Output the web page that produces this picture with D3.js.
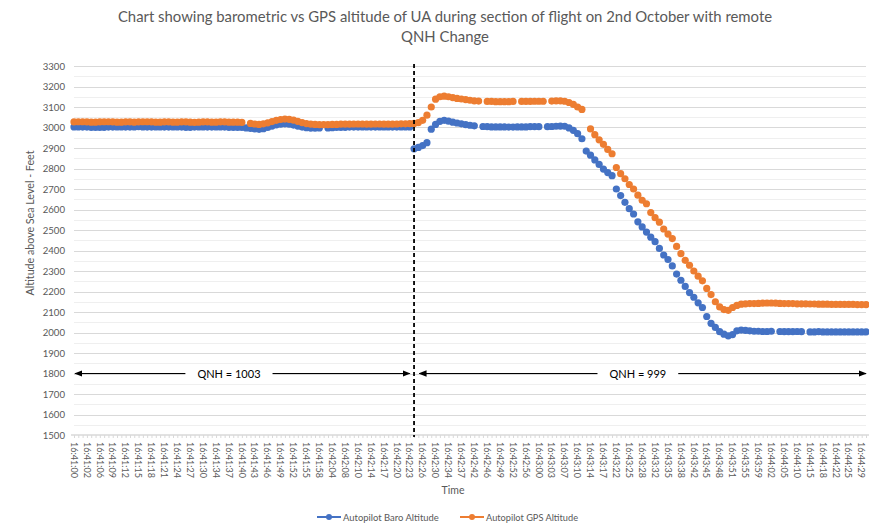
<!DOCTYPE html>
<html><head><meta charset="utf-8">
<script src="https://cdn.jsdelivr.net/npm/d3@7/dist/d3.min.js"></script>
<style>body{margin:0;background:#fff;} svg{display:block;font-family:Lato,"Open Sans",sans-serif;}</style>
</head><body>
<svg id="chart" width="869" height="524"></svg>
<script>
const titleLines = ["Chart showing barometric vs GPS altitude of UA during section of flight on 2nd October with remote", "QNH Change"];
const yTitle = "Altitude above Sea Level - Feet";
const xTitle = "Time";
const seriesNames = ["Autopilot Baro Altitude", "Autopilot GPS Altitude"];
const yTickValues = [1500,1600,1700,1800,1900,2000,2100,2200,2300,2400,2500,2600,2700,2800,2900,3000,3100,3200,3300];
const yMinorValues = [1550,1650,1750,1850,1950,2050,2150,2250,2350,2450,2550,2650,2750,2850,2950,3050,3150,3250];
// one label every 3rd category
const tickLabels = ["16:41:00","16:41:02","16:41:06","16:41:09","16:41:12","16:41:15","16:41:18","16:41:21","16:41:24","16:41:27",
"16:41:30","16:41:34","16:41:37","16:41:40","16:41:43","16:41:46","16:41:49","16:41:52","16:41:55","16:41:58",
"16:42:04","16:42:08","16:42:10","16:42:14","16:42:17","16:42:20","16:42:23","16:42:26","16:42:30","16:42:34",
"16:42:37","16:42:42","16:42:46","16:42:49","16:42:52","16:42:56","16:43:00","16:43:03","16:43:07","16:43:10",
"16:43:14","16:43:17","16:43:22","16:43:25","16:43:28","16:43:32","16:43:35","16:43:38","16:43:42","16:43:45",
"16:43:48","16:43:51","16:43:55","16:43:59","16:44:02","16:44:05","16:44:10","16:44:15","16:44:18","16:44:22",
"16:44:25","16:44:29"];
const baro = [
3003,3003,3002,3002,3001,3000,3000,3001,3002,3002,
3003,3003,3002,3002,3003,3004,3003,3002,3002,3003,
3003,3002,3002,3003,3003,3002,3001,3001,3002,3003,
3003,3002,3002,3003,3003,3002,3001,3001,3000,3000,
2998,2996,2993,2991,2994,3000,3007,3013,3016,3018,
3016,3012,3007,3002,2999,2997,2997,2998,null,2998,
2999,3000,3001,3001,3002,3002,3002,3003,3003,3002,
3002,3003,3003,3003,3002,3002,3003,3003,3003,2896,
2903,2912,2926,2992,3015,3030,3035,3031,3026,3022,
3018,3014,3011,3008,null,3005,3004,3003,3003,3003,
3003,3002,3002,3003,3003,3003,3004,3004,3004,null,
3004,3005,3006,3007,3006,2998,2986,2970,2945,2885,
2865,2842,2820,2797,2780,2765,2700,2668,2635,2604,
2578,2540,2515,2490,2465,2443,2410,2378,2356,2325,
2285,2255,2225,2195,2172,2145,2122,2078,2045,2025,
2004,1992,1984,1990,2008,2012,2010,2008,2006,2006,
2005,2005,2006,null,2005,2004,2004,2004,2005,2004,
null,2003,2003,2004,2003,2003,2003,2003,2003,2003,
2003,2003,2003,2003,2003];
const gps = [
3027,3028,3028,3027,3026,3026,3027,3028,3028,3027,
3026,3026,3027,3027,3026,3027,3028,3028,3027,3026,
3026,3027,3027,3026,3026,3027,3027,3026,3025,3026,
3027,3027,3026,3026,3027,3027,3026,3026,3026,3025,
null,3020,3017,3015,3018,3023,3029,3035,3039,3041,
3040,3036,3030,3024,3019,3016,3015,3014,3014,3014,
3015,3015,3016,3016,3016,3017,3017,3017,3016,3016,
3017,3017,3016,3016,3016,3017,3018,3018,3019,3020,
3024,3035,3060,3100,3138,3150,3153,3150,3146,3142,
3139,3136,3133,3130,3129,null,3127,3127,3126,3126,
3126,3126,3127,null,3127,3127,3127,3128,3128,3128,
null,3129,3130,3130,3128,3122,3113,3100,3088,null,
2993,2965,2940,2918,2893,2872,2805,2775,2750,2722,
2700,2670,2645,2628,2585,2560,2538,2505,2480,2458,
2420,2385,2352,2328,2300,2275,2252,2215,2185,2150,
2125,2112,2108,2122,2132,2138,2140,2141,2141,2142,
2143,2144,2144,2143,2142,2141,2141,2141,2140,2140,
2140,2139,2139,2138,2138,2138,2137,2137,2137,2137,
2137,2137,2136,2136,2136];
const qnhChangeIndex = 79;
const annotationLevel = 1800;
const qnhLabels = ["QNH = 1003", "QNH = 999"];
const qnhLabelIndex = [36, 131];
const colors = ["#4472C4", "#ED7D31"];

const svg = d3.select("#chart");
const plot = {left: 74, right: 866, top: 66, bottom: 435};
const idx = d3.range(baro.length);
const x = d3.scalePoint().domain(idx).range([plot.left, plot.right]);
const y = d3.scaleLinear().domain([1500, 3300]).range([plot.bottom, plot.top]);
const textCol = "#595959";

function fit(sel, target) {
  const w = sel.node().getComputedTextLength();
  const fs = parseFloat(sel.attr("font-size"));
  sel.attr("font-size", (fs * target / w).toFixed(2) + "px");
}

// gridlines
svg.append("g").selectAll("line").data(yMinorValues).join("line")
  .attr("x1", plot.left).attr("x2", plot.right)
  .attr("y1", d => Math.round(y(d)) + 0.5).attr("y2", d => Math.round(y(d)) + 0.5)
  .attr("stroke", "#efefef").attr("stroke-width", 1);
svg.append("g").selectAll("line").data(yTickValues.slice(1)).join("line")
  .attr("x1", plot.left).attr("x2", plot.right)
  .attr("y1", d => Math.round(y(d)) + 0.5).attr("y2", d => Math.round(y(d)) + 0.5)
  .attr("stroke", "#d9d9d9").attr("stroke-width", 1);

// y axis labels
const yAxis = d3.axisLeft(y).tickValues(yTickValues).tickSize(0).tickPadding(9).tickFormat(d3.format("d"));
const gy = svg.append("g").attr("transform", `translate(${plot.left},0)`).call(yAxis);
gy.select(".domain").remove();
gy.selectAll("text").attr("fill", textCol).attr("font-size", "9.6px").attr("font-family", "Lato");

// x axis
const xAxis = d3.axisBottom(x).tickValues(idx).tickSize(3).tickFormat("");
const gx = svg.append("g").attr("transform", `translate(0,${plot.bottom})`).call(xAxis);
gx.select(".domain").attr("stroke", "#d9d9d9").attr("stroke-width", 1.5).attr("d", `M${plot.left-3},0H${plot.right+3}`);
gx.selectAll(".tick line").attr("stroke", "#d9d9d9");
const labelIdx = tickLabels.map((t, i) => i * 3);
const xl = svg.append("g").selectAll("text").data(labelIdx).join("text")
  .attr("transform", d => `translate(${x(d) - 3.3},${plot.bottom + 7}) rotate(90)`)
  .attr("text-anchor", "start")
  .attr("fill", textCol).attr("font-size", "9.5px")
  .text((d, i) => tickLabels[i]);
const w0 = xl.node().getComputedTextLength();
xl.attr("font-size", (9.5 * 36 / w0).toFixed(2) + "px");

// axis titles
svg.append("text").attr("x", 453).attr("y", 494).attr("text-anchor", "middle")
  .attr("fill", textCol).attr("font-size", "10.5px").text(xTitle);
const yt = svg.append("text").attr("transform", `translate(34,223) rotate(-90)`)
  .attr("text-anchor", "middle").attr("fill", textCol).attr("font-size", "10.5px").text(yTitle);
fit(yt, 145);

// title
const tt = svg.append("g").selectAll("text").data(titleLines).join("text")
  .attr("x", 445).attr("y", (d, i) => 22 + i * 19.5).attr("text-anchor", "middle")
  .attr("fill", textCol).attr("font-size", "13.5px").text(d => d);
const tw = tt.node().getComputedTextLength();
tt.attr("font-size", (13.5 * 655 / tw).toFixed(2) + "px");

// series (markers)
[baro, gps].forEach((vals, s) => {
  svg.append("g").selectAll("circle").data(vals.map((v, i) => [i, v]).filter(d => d[1] != null)).join("circle")
    .attr("cx", d => x(d[0])).attr("cy", d => y(d[1])).attr("r", 3.6).attr("fill", colors[s]);
});

// QNH change dashed line
svg.append("line").attr("x1", x(qnhChangeIndex)).attr("x2", x(qnhChangeIndex))
  .attr("y1", plot.top - 2).attr("y2", plot.bottom + 2)
  .attr("stroke", "#000").attr("stroke-width", 1.8).attr("stroke-dasharray", "4,3");

// arrows
const defs = svg.append("defs");
defs.append("marker").attr("id", "ah").attr("viewBox", "0 0 10 10").attr("refX", 9).attr("refY", 5)
  .attr("markerWidth", 8).attr("markerHeight", 8).attr("orient", "auto-start-reverse")
  .append("path").attr("d", "M0,1L10,5L0,9Z").attr("fill", "#000");
const arrows = [[0, qnhChangeIndex - 1], [qnhChangeIndex + 1, baro.length - 1]];
arrows.forEach(([a, b], k) => {
  const ya = y(annotationLevel);
  const ag = svg.append("g");
  ag.append("line").attr("x1", x(a) + 1).attr("x2", x(b)).attr("y1", ya).attr("y2", ya)
    .attr("stroke", "#000").attr("stroke-width", 1)
    .attr("marker-start", "url(#ah)").attr("marker-end", "url(#ah)");
  const bg = ag.append("rect");
  const t = ag.append("text").attr("x", x(qnhLabelIndex[k])).attr("y", ya + 4).attr("text-anchor", "middle")
    .attr("fill", "#000").attr("font-size", "11px").text(qnhLabels[k]);
  const bb = t.node().getBBox();
  bg.attr("x", bb.x - 12).attr("y", ya - 3).attr("width", bb.width + 24).attr("height", 6).attr("fill", "#fff");
});

// legend
const legX = [317, 460];
seriesNames.forEach((n, s) => {
  const lx = legX[s], ly = 517;
  svg.append("line").attr("x1", lx).attr("x2", lx + 24).attr("y1", ly).attr("y2", ly)
    .attr("stroke", colors[s]).attr("stroke-width", 2);
  svg.append("circle").attr("cx", lx + 12).attr("cy", ly).attr("r", 3).attr("fill", colors[s]);
  const lt = svg.append("text").attr("x", lx + 26).attr("y", ly + 3.5).attr("fill", textCol)
    .attr("font-size", "10px").text(n);
  fit(lt, s === 0 ? 96 : 92);
});
</script>
</body></html>
